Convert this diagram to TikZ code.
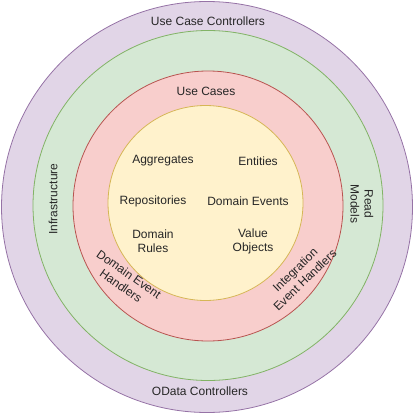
\documentclass[tikz,border=0pt]{standalone}
\usepackage{fontspec}
\setmainfont{Liberation Sans}
\usetikzlibrary{calc}
\definecolor{purplefill}{HTML}{E1D5E7}
\definecolor{purpleline}{HTML}{9673A6}
\definecolor{greenfill}{HTML}{D5E8D4}
\definecolor{greenline}{HTML}{82B366}
\definecolor{redfill}{HTML}{F8CECC}
\definecolor{redline}{HTML}{B85450}
\definecolor{yellowfill}{HTML}{FFF2CC}
\definecolor{yellowline}{HTML}{D6B656}
\tikzset{
    ring/.style={circle, line width=0.8pt, inner sep=0pt},
    lbl/.style={font=\fontsize{12}{14}\selectfont, align=center, inner sep=1pt, text=black!85}
}

\begin{document}
\begin{tikzpicture}[x=1pt, y=-1pt]
%% LAYOUT (pixel grid 414 x 414, y down):
%% outer(207,207) r206  green(208,205.5) r175  red(208,206) r135  core(205.5,203) r97.5
\useasboundingbox (0,0) rectangle (414,414);

%% ── RINGS ───────────────────────────────────────────────────────
\node[ring, draw=purpleline, fill=purplefill, minimum size=411pt] (outer) at (207,207)   {};
\node[ring, draw=greenline,  fill=greenfill,  minimum size=350pt] (infra) at (208,205.5) {};
\node[ring, draw=redline,    fill=redfill,    minimum size=270pt] (app)   at (208,206)   {};
\node[ring, draw=yellowline, fill=yellowfill, minimum size=195pt] (core)  at (205.5,203) {};

%% ── OUTER RING ──────────────────────────────────────────────────
\node[lbl] (ucctrl)  at (208,21)  {Use Case Controllers};
\node[lbl] (odata)   at (200,391) {OData Controllers};

%% ── INFRASTRUCTURE RING ─────────────────────────────────────────
\node[lbl, rotate=90]  (infralbl) at (53,199)  {Infrastructure};
\node[lbl, rotate=-90] (readmod)  at (362,204) {Read\\Models};

%% ── APPLICATION RING ────────────────────────────────────────────
\node[lbl] (usecases) at (206,91) {Use Cases};
\node[lbl, rotate=-35] (domhand) at (125,280) {Domain Event\\Handlers};
\node[lbl, rotate=44]  (inthand) at (300,275) {Integration\\Event Handlers};

%% ── DOMAIN CORE ─────────────────────────────────────────────────
\node[lbl] (aggr)   at (163,161) {Aggregates};
\node[lbl] (ent)    at (258,161) {Entities};
\node[lbl] (repo)   at (153,201) {Repositories};
\node[lbl] (devents) at (248,201) {Domain Events};
\node[lbl] (rules)  at (153,241) {Domain\\Rules};
\node[lbl] (valobj) at (253,241) {Value\\Objects};

\end{tikzpicture}
\end{document}
